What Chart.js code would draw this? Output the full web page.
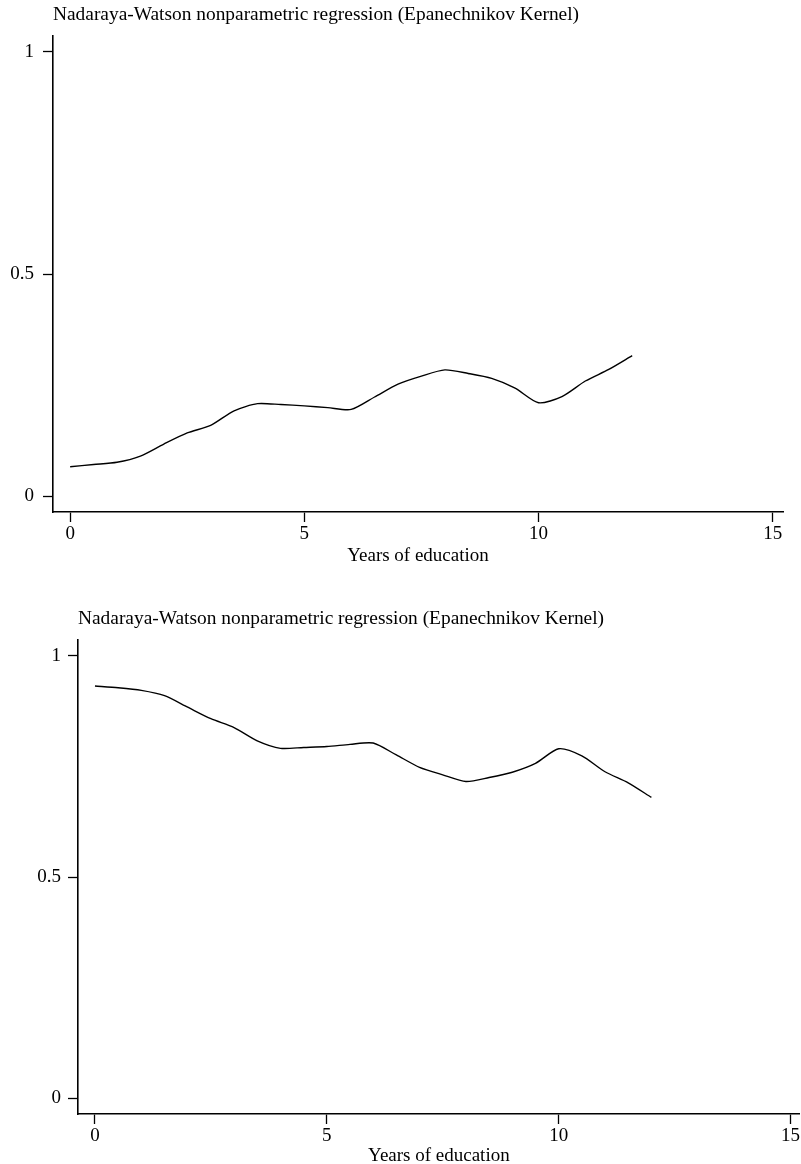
<!DOCTYPE html>
<html>
<head>
<meta charset="utf-8">
<script src="https://cdn.jsdelivr.net/npm/chart.js@4.4.0/dist/chart.umd.min.js"></script>
<style>
  body { margin: 0; background: #fff; }
  .panel { position: absolute; left: 0; width: 801px; }
  .ttl { position: absolute; font-family: "Liberation Serif", serif; font-size: 19.4px; line-height: 23px; color: #000; white-space: nowrap; }
</style>
</head>
<body>
<div class="panel" style="top:0;height:570px">
  <canvas id="chart1" width="801" height="570"></canvas>
</div>
<div class="ttl" style="left:53px;top:2px">Nadaraya-Watson nonparametric regression (Epanechnikov Kernel)</div>
<div class="panel" style="top:600px;height:564px">
  <canvas id="chart2" width="801" height="564"></canvas>
</div>
<div class="ttl" style="left:78px;top:606px">Nadaraya-Watson nonparametric regression (Epanechnikov Kernel)</div>

<script>
// years of education (evaluation grid)
const years = [0, 0.5, 1, 1.5, 2, 2.5, 3, 3.5, 4, 4.5, 5, 5.5, 6, 6.5, 7, 7.5, 8, 8.5, 9, 9.5, 10, 10.5, 11, 11.5, 12];
// top panel estimate
const fitTop = [0.066, 0.071, 0.076, 0.090, 0.117, 0.142, 0.159, 0.192, 0.208, 0.206, 0.203, 0.199, 0.195,
                0.223, 0.252, 0.270, 0.284, 0.276, 0.265, 0.243, 0.210, 0.224, 0.259, 0.285, 0.316];
// bottom panel estimate
const fitBottom = [0.932, 0.928, 0.922, 0.910, 0.884, 0.858, 0.838, 0.808, 0.791, 0.793, 0.795, 0.800, 0.803,
                   0.776, 0.748, 0.731, 0.716, 0.725, 0.737, 0.757, 0.790, 0.774, 0.738, 0.713, 0.680];
const xTicks = [0, 5, 10, 15];
const yTicks = [0, 0.5, 1];
const xLabel = "Years of education";

const serif = "'Liberation Serif', 'Times New Roman', serif";

function makeChart(id, values, opt) {
    const pts = years.map((x, i) => ({ x: x, y: values[i] }));
    return new Chart(document.getElementById(id), {
        type: "line",
        data: {
            datasets: [{
                data: pts,
                borderColor: "#000",
                borderWidth: 1.4,
                pointRadius: 0,
                fill: false,
                tension: 0.25
            }]
        },
        options: {
            responsive: false,
            animation: false,
            layout: { padding: { top: opt.top, right: opt.right, left: 0, bottom: 0 } },
            plugins: { legend: { display: false }, tooltip: { enabled: false } },
            scales: {
                x: {
                    type: "linear",
                    min: -0.366,
                    max: opt.xmax,
                    afterBuildTicks: s => { s.ticks = xTicks.map(v => ({ value: v })); },
                    afterFit: s => { s.height = opt.xh; },
                    grid: { display: true, drawOnChartArea: false, drawTicks: true, tickLength: 10, tickColor: "#000", tickWidth: 1.3 },
                    border: { display: true, color: "#000", width: 1.6 },
                    ticks: { color: "#000", font: { family: serif, size: 19 }, padding: 1, maxRotation: 0 },
                    title: { display: true, text: xLabel, color: "#000", font: { family: serif, size: 19 }, padding: { top: 0, bottom: opt.tb } }
                },
                y: {
                    min: -0.036,
                    max: 1.036,
                    afterBuildTicks: s => { s.ticks = yTicks.map(v => ({ value: v })); },
                    afterFit: s => { s.width = opt.yw; },
                    grid: { display: true, drawOnChartArea: false, drawTicks: true, tickLength: 10, tickColor: "#000", tickWidth: 1.3 },
                    border: { display: true, color: "#000", width: 1.6 },
                    ticks: { color: "#000", font: { family: serif, size: 19 }, padding: opt.yp, callback: v => String(v) }
                }
            }
        }
    });
}

makeChart("chart1", fitTop, { top: 36, right: 18, xmax: 15.22, xh: 58, yw: 53, tb: 3, yp: 9 });
makeChart("chart2", fitBottom, { top: 40, right: 0, xmax: 15.2, xh: 50, yw: 78, tb: -3, yp: 7 });
</script>
</body>
</html>
